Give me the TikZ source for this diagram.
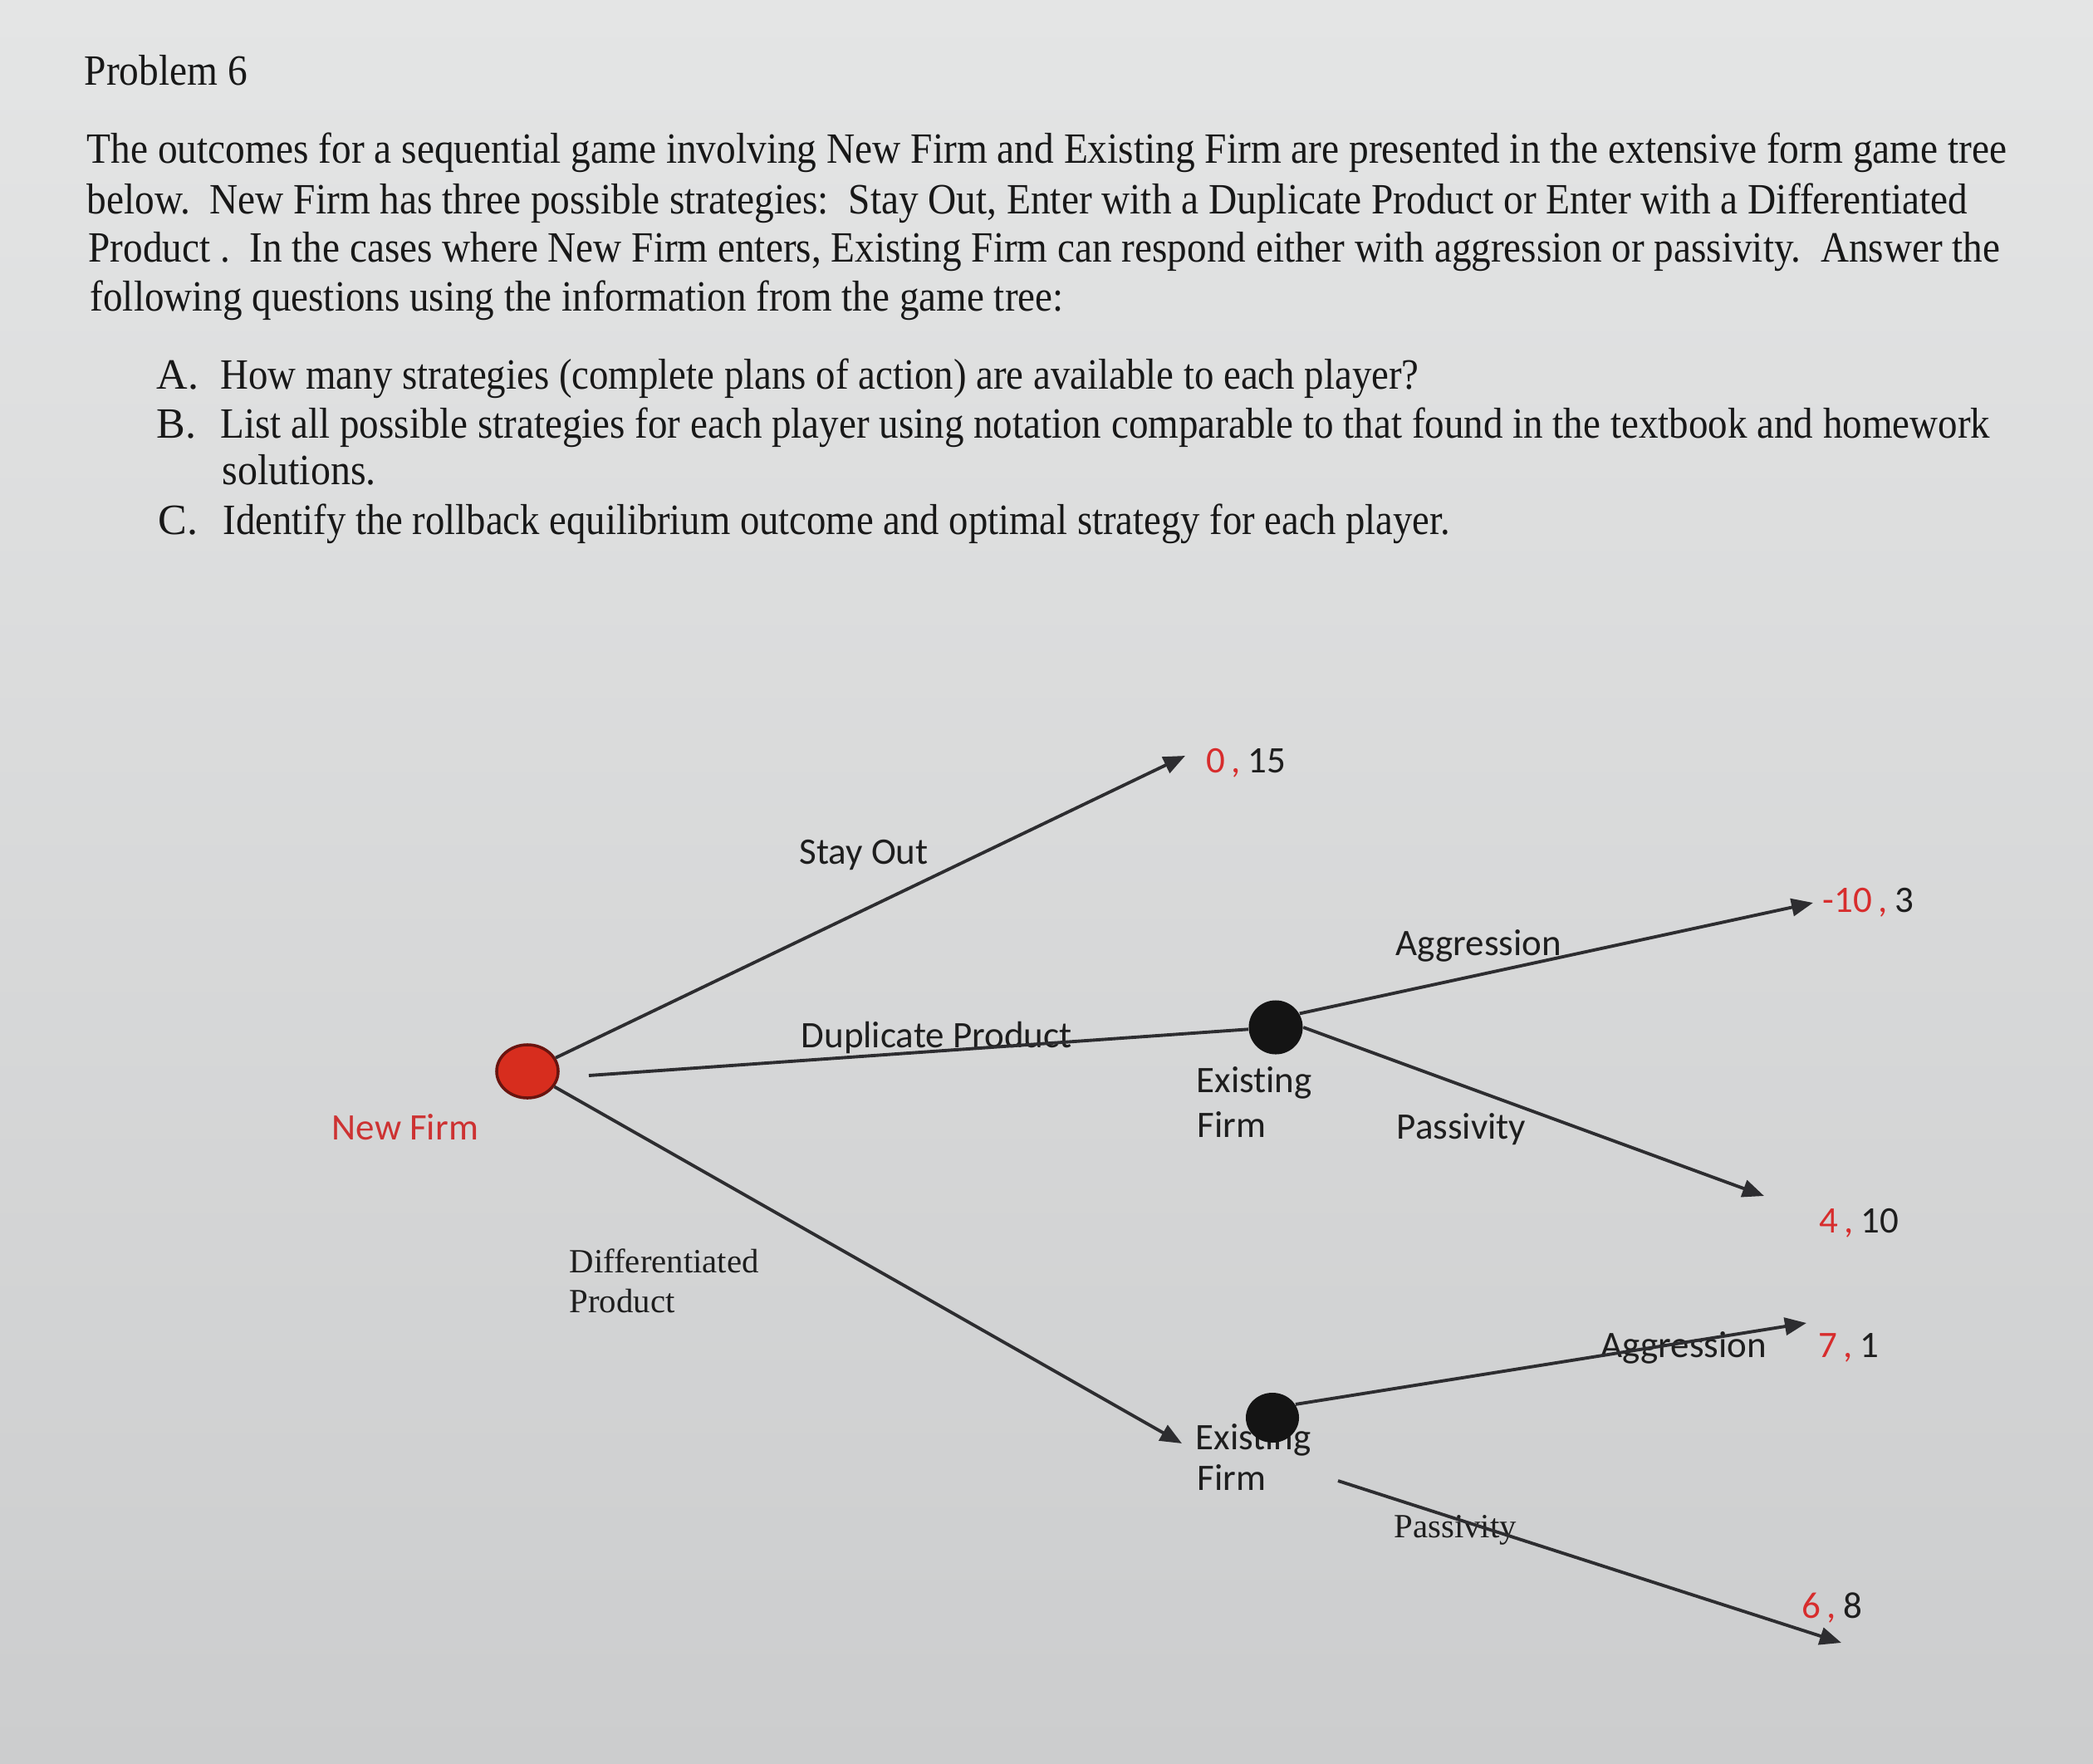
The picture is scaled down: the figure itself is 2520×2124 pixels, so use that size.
\documentclass[tikz,border=0pt]{standalone}
\usepackage{fontspec}
\usepackage{graphicx}
\setmainfont{Liberation Serif}
\newfontfamily\calfont{Carlito}[Ligatures=CommonOff]
\usetikzlibrary{arrows.meta,shapes.geometric}
\definecolor{bgtop}{RGB}{228,229,229}
\definecolor{bgbot}{RGB}{204,205,206}
\definecolor{bodycol}{RGB}{24,24,24}
\definecolor{labcol}{RGB}{30,30,30}
\definecolor{linecol}{RGB}{45,45,48}
\definecolor{payred}{RGB}{215,45,45}
\definecolor{nfcol}{RGB}{205,50,50}
\definecolor{nfred}{RGB}{215,45,30}
\definecolor{nfborder}{RGB}{105,20,15}
\newcommand{\fitline}[2]{\resizebox{#1}{\height}{#2}}
\begin{document}
\begin{tikzpicture}[x=0.01cm,y=-0.01cm,
  bodyline/.style={anchor=base west,inner sep=0pt,text=bodycol,font=\fontsize{14.8pt}{17pt}\selectfont},
  lab/.style={anchor=base west,inner sep=0pt,text=labcol,font=\calfont\fontsize{12.8pt}{15pt}\selectfont},
  serlab/.style={anchor=base west,inner sep=0pt,text=labcol,font=\fontsize{11.6pt}{14pt}\selectfont},
  edge/.style={draw=linecol,line width=1.1pt},
  arr/.style={edge,-{Triangle[length=0.26cm,width=0.21cm]}},
  nfnode/.style={ellipse,draw=nfborder,fill=nfred,line width=1pt,minimum width=0.74cm,minimum height=0.64cm,inner sep=0pt},
  efnode/.style={ellipse,fill=black!92,minimum width=0.65cm,minimum height=0.65cm,inner sep=0pt}]
\shade[top color=bgtop,bottom color=bgbot] (0,0) rectangle (2520,2124);
\useasboundingbox (0,0) rectangle (2520,2124);

% --- problem text ---
\node[bodyline] (title) at (101,102) {\fitline{1.96cm}{Problem 6}};
\node[bodyline] (p1) at (104,196) {\fitline{23.10cm}{The outcomes for a sequential game involving New Firm and Existing Firm are presented in the extensive form game tree}};
\node[bodyline] (p2) at (104,257) {\fitline{22.63cm}{below.\ \ New Firm has three possible strategies:\ \ Stay Out, Enter with a Duplicate Product or Enter with a Differentiated}};
\node[bodyline] (p3) at (106,315) {\fitline{23.00cm}{Product .\ \ In the cases where New Firm enters, Existing Firm can respond either with aggression or passivity.\ \ Answer the}};
\node[bodyline] (p4) at (108,374) {\fitline{11.71cm}{following questions using the information from the game tree:}};
\node[bodyline] (qa) at (188,468) {A.};
\node[bodyline] (qat) at (265,468) {\fitline{14.42cm}{How many strategies (complete plans of action) are available to each player?}};
\node[bodyline] (qb) at (188,527) {B.};
\node[bodyline] (qbt) at (265,527) {\fitline{21.29cm}{List all possible strategies for each player using notation comparable to that found in the textbook and homework}};
\node[bodyline] (qbt2) at (267,583) {\fitline{1.85cm}{solutions.}};
\node[bodyline] (qc) at (190,643) {C.};
\node[bodyline] (qct) at (268,643) {\fitline{14.76cm}{Identify the rollback equilibrium outcome and optimal strategy for each player.}};

% --- labels ---
\node[lab] (lSO) at (962,1040) {Stay Out};
\node[lab] (lDP) at (964,1261) {Duplicate Product};
\node[lab] (lAg1) at (1680,1150) {Aggression};
\node[lab] (lPa1) at (1681,1371) {Passivity};
\node[lab] (lEx1) at (1440,1315) {Existing};
\node[lab] (lFi1) at (1441,1369) {Firm};
\node[lab] (lEx2) at (1439,1745) {Existing};
\node[lab] (lFi2) at (1441,1794) {Firm};
\node[lab] (lAg2) at (1927,1634) {Aggression};
\node[serlab] (lPa2) at (1678,1851) {Passivity};
\node[lab,text=nfcol] (lNF) at (399,1372) {New Firm};
\node[serlab] (lDi) at (685,1532) {Differentiated};
\node[serlab] (lPr) at (685,1580) {Product};

% --- payoffs ---
\node[lab] (pSO) at (1452,930) {\textcolor{payred}{0\hspace{0.07cm},}\hspace{0.09cm}15};
\node[lab] (pA1) at (2194,1098) {\textcolor{payred}{-10\hspace{0.07cm},}\hspace{0.09cm}3};
\node[lab] (pP1) at (2190,1484) {\textcolor{payred}{4\hspace{0.07cm},}\hspace{0.09cm}10};
\node[lab] (pA2) at (2189,1634) {\textcolor{payred}{7\hspace{0.07cm},}\hspace{0.09cm}1};
\node[lab] (pP2) at (2169,1948) {\textcolor{payred}{6\hspace{0.07cm},}\hspace{0.09cm}8};

% --- decision nodes ---
\node[nfnode] (nf) at (635,1290) {};
\node[efnode] (ef1) at (1536,1237) {};
\node[efnode,minimum height=0.60cm,minimum width=0.64cm] (ef2) at (1532,1707) {};

% --- connector ends ---
\coordinate (tSO) at (1427,910);
\coordinate (dS) at (709,1295);
\coordinate (tDP) at (1423,1738);
\coordinate (tA1) at (2183,1087);
\coordinate (tP1) at (2124,1440);
\coordinate (tA2) at (2175,1593);
\coordinate (pS) at (1611,1783);
\coordinate (tP2) at (2217,1978);

\draw[arr] (nf) -- (tSO);
\draw[edge] (dS) -- (ef1);
\draw[arr] (nf) -- (tDP);
\draw[arr] (ef1.30) -- (tA1);
\draw[arr] (ef1.east) -- (tP1);
\draw[arr] (ef2.30) -- (tA2);
\draw[arr] (pS) -- (tP2);
\end{tikzpicture}
\end{document}
